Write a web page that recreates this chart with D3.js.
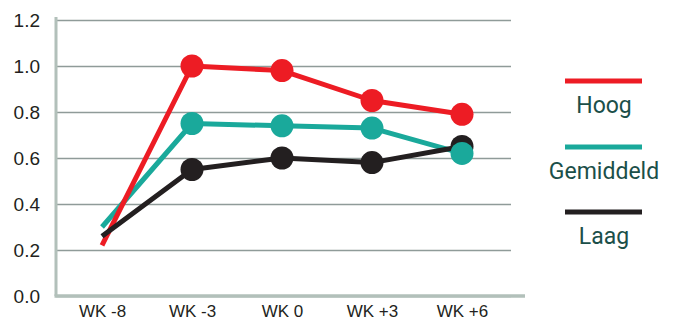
<!DOCTYPE html>
<html>
<head>
<meta charset="utf-8">
<script src="https://cdn.jsdelivr.net/npm/d3@7/dist/d3.min.js"></script>
<style>
  html, body { margin: 0; padding: 0; background: #ffffff; }
  svg { display: block; }
</style>
</head>
<body>
<svg id="chart" width="684" height="320"></svg>
<script>
const categories = ["WK -8", "WK -3", "WK 0", "WK +3", "WK +6"];
const hoog      = [0.22, 1.00, 0.98, 0.85, 0.79];
const gemiddeld = [0.30, 0.75, 0.74, 0.73, 0.62];
const laag      = [0.26, 0.55, 0.60, 0.58, 0.65];
const seriesNames = ["Hoog", "Gemiddeld", "Laag"];
const yTicks = [0.0, 0.2, 0.4, 0.6, 0.8, 1.0, 1.2];

const colors = { Hoog: "#ED1C24", Gemiddeld: "#1AA99B", Laag: "#231F20" };
const seriesData = { Hoog: hoog, Gemiddeld: gemiddeld, Laag: laag };

const svg = d3.select("#chart");
const plotLeft = 56, plotRight = 511, axisRight = 525;

const x = d3.scalePoint().domain(categories).range([57, 507]).padding(0.5);
const y = d3.scaleLinear().domain([0, 1.2]).range([296, 20]);

// y axis with gridlines
const yAxis = svg.append("g")
  .attr("transform", `translate(${plotLeft},0)`)
  .call(d3.axisLeft(y).tickValues(yTicks).tickFormat(d3.format(".1f"))
        .tickSize(-(plotRight - plotLeft)).tickPadding(16));
yAxis.select(".domain").remove();
yAxis.selectAll(".tick line").attr("stroke", "#8F9B99").attr("stroke-width", 1.6);
yAxis.selectAll(".tick text")
  .attr("fill", "#231F20")
  .style("font-family", "'Liberation Sans Narrow', 'Arial Narrow', 'Liberation Sans', sans-serif")
  .style("font-size", "19px");

// x axis labels
const xAxis = svg.append("g")
  .attr("transform", `translate(0,296)`)
  .call(d3.axisBottom(x).tickSize(0).tickPadding(9));
xAxis.select(".domain").remove();
xAxis.selectAll(".tick text")
  .attr("fill", "#231F20")
  .style("font-family", "'Liberation Sans', Arial, sans-serif")
  .style("font-size", "17px");

// axis lines
svg.append("line").attr("x1", plotLeft).attr("x2", plotLeft)
  .attr("y1", 17).attr("y2", 296)
  .attr("stroke", "#B2C0BA").attr("stroke-width", 3);
svg.append("line").attr("x1", plotLeft - 1.5).attr("x2", axisRight)
  .attr("y1", 296).attr("y2", 296)
  .attr("stroke", "#B2C0BA").attr("stroke-width", 3.5);

// lines
const line = d3.line().x((d, i) => x(categories[i])).y(d => y(d));
["Gemiddeld", "Hoog", "Laag"].forEach(name => {
  svg.append("path").datum(seriesData[name])
    .attr("d", line).attr("fill", "none")
    .attr("stroke", colors[name]).attr("stroke-width", 5)
    .attr("stroke-linejoin", "round");
});

// markers (no marker on first point)
["Laag", "Gemiddeld", "Hoog"].forEach(name => {
  svg.append("g").selectAll("circle")
    .data(seriesData[name].slice(1))
    .join("circle")
    .attr("cx", (d, i) => x(categories[i + 1]))
    .attr("cy", d => y(d))
    .attr("r", 11.5)
    .attr("fill", colors[name]);
});

// legend
const legendY = { Hoog: 81, Gemiddeld: 147, Laag: 212 };
const lg = svg.append("g");
seriesNames.forEach(name => {
  lg.append("line").attr("x1", 565).attr("x2", 642)
    .attr("y1", legendY[name]).attr("y2", legendY[name])
    .attr("stroke", colors[name]).attr("stroke-width", 5);
  lg.append("text").attr("x", 604).attr("y", legendY[name] + 32)
    .attr("text-anchor", "middle")
    .attr("fill", "#1B4F49")
    .style("font-family", "Roboto, 'Open Sans', sans-serif")
    .style("font-size", "23px")
    .text(name);
});
</script>
</body>
</html>
